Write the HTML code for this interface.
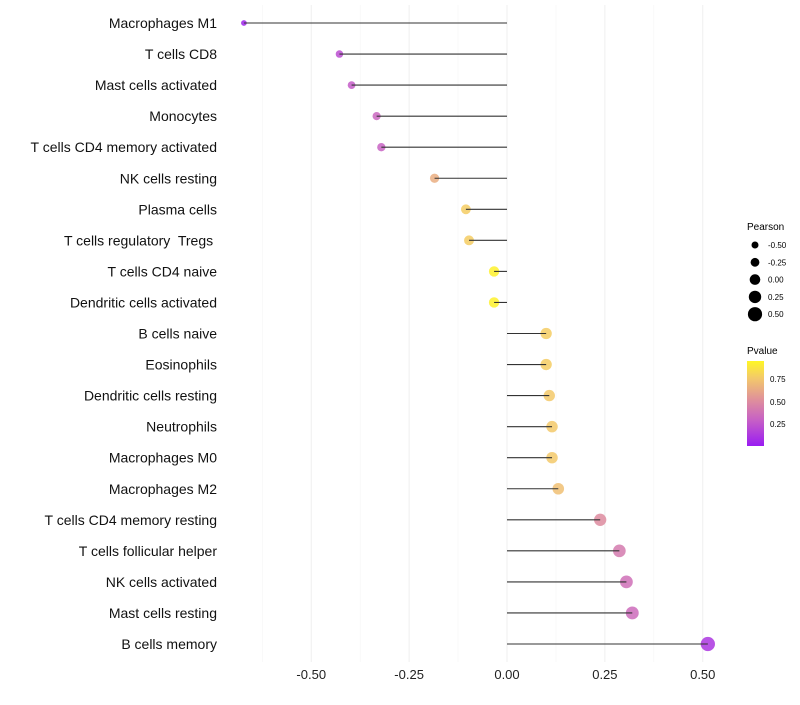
<!DOCTYPE html>
<html><head><meta charset="utf-8"><style>
body{margin:0;background:#fff;font-family:"Liberation Sans",sans-serif}
</style></head><body>
<svg id="chart" width="800" height="700">
<defs><linearGradient id="pg" x1="0" y1="1" x2="0" y2="0">
<stop offset="0" stop-color="#9a1cf2"/><stop offset="0.3" stop-color="#c65fc6"/><stop offset="0.55" stop-color="#e0919a"/><stop offset="0.8" stop-color="#f3c96a"/><stop offset="1" stop-color="#fff625"/></linearGradient></defs>
<g id="grid"></g><g id="dots"></g><g id="marks"></g><g id="labels"></g><g id="xticks"></g>
<g font-size="10" fill="#000">
<text x="747" y="230" font-size="10">Pearson</text>
<g id="sizeleg"></g>
<text x="747" y="354" font-size="10">Pvalue</text>
<rect x="747" y="361" width="17" height="85" fill="url(#pg)"/>
<text x="770" y="382" font-size="8">0.75</text>
<text x="770" y="405" font-size="8">0.50</text>
<text x="770" y="427" font-size="8">0.25</text>
</g>
</svg>
<script>
const categories=["Macrophages M1","T cells CD8","Mast cells activated","Monocytes","T cells CD4 memory activated","NK cells resting","Plasma cells","T cells regulatory  Tregs ","T cells CD4 naive","Dendritic cells activated","B cells naive","Eosinophils","Dendritic cells resting","Neutrophils","Macrophages M0","Macrophages M2","T cells CD4 memory resting","T cells follicular helper","NK cells activated","Mast cells resting","B cells memory"];
const pearson=[-0.672,-0.428,-0.397,-0.333,-0.321,-0.185,-0.105,-0.097,-0.033,-0.033,0.10,0.10,0.108,0.115,0.115,0.131,0.238,0.287,0.305,0.32,0.513];
const pvalue=[0.05,0.22,0.28,0.33,0.31,0.65,0.78,0.78,0.93,0.93,0.78,0.78,0.76,0.76,0.76,0.72,0.5,0.42,0.37,0.35,0.12];
const xTicks=[-0.5,-0.25,0,0.25,0.5];
const xTickLabels=["-0.50","-0.25","0.00","0.25","0.50"];
const legendVals=[-0.5,-0.25,0,0.25,0.5];
const legendLabels=["-0.50","-0.25","0.00","0.25","0.50"];
const ns="http://www.w3.org/2000/svg";
const x=v=>507+v*391.5;
const y=i=>23+i*31.05;
const r=v=>Math.max(1.5,5.3+3.6*v);
const stops=[[0,[154,28,242]],[0.3,[198,95,198]],[0.55,[224,145,154]],[0.8,[243,201,106]],[1,[255,246,37]]];
function col(p){const t=Math.min(1,Math.max(0,(p-0.01)/0.94));for(let k=1;k<stops.length;k++){if(t<=stops[k][0]){const a=stops[k-1],b=stops[k],f=(t-a[0])/(b[0]-a[0]);return "rgb("+a[1].map((c,j)=>Math.round(c+(b[1][j]-c)*f)).join(",")+")";}}return "rgb(255,246,37)";}
function mk(tag,at,parent){const e=document.createElementNS(ns,tag);for(const k in at)e.setAttribute(k,at[k]);parent.appendChild(e);return e;}
const grid=document.getElementById('grid'),marks=document.getElementById('marks'),dots=document.getElementById('dots'),labels=document.getElementById('labels'),xt=document.getElementById('xticks');
[-0.625,-0.375,-0.125,0.125,0.375].forEach(v=>{const l=mk('line',{x1:x(v),x2:x(v),y1:5,y2:662,stroke:'#f5f5f5','stroke-width':0.6},grid);

});
xTicks.forEach((v,i)=>{const l=mk('line',{x1:x(v),x2:x(v),y1:5,y2:662,stroke:'#efefef','stroke-width':1},grid);


const t=mk('text',{x:x(v),y:679,'text-anchor':'middle','font-size':13,fill:'#222'},xt);t.textContent=xTickLabels[i];

});
categories.forEach((c,i)=>{
const d=mk('circle',{cx:x(pearson[i]),cy:y(i),r:r(pearson[i]),fill:col(pvalue[i]),'fill-opacity':0.85},dots);


const l=mk('line',{x1:x(0),x2:x(pearson[i]),y1:y(i),y2:y(i),stroke:'#333','stroke-width':1.1},marks);


const t=mk('text',{x:217,y:y(i)+5,'text-anchor':'end','font-size':14,fill:'#111'},labels);t.textContent=c;
t.style.whiteSpace='pre';

});
const sl=document.getElementById('sizeleg');
legendVals.forEach((v,i)=>{const yy=245+i*17.3;
const c=mk('circle',{cx:755,cy:yy,r:r(v),fill:'#000'},sl);


const t=mk('text',{x:768,y:yy+3,'font-size':8},sl);t.textContent=legendLabels[i];

});
</script>
</body></html>
